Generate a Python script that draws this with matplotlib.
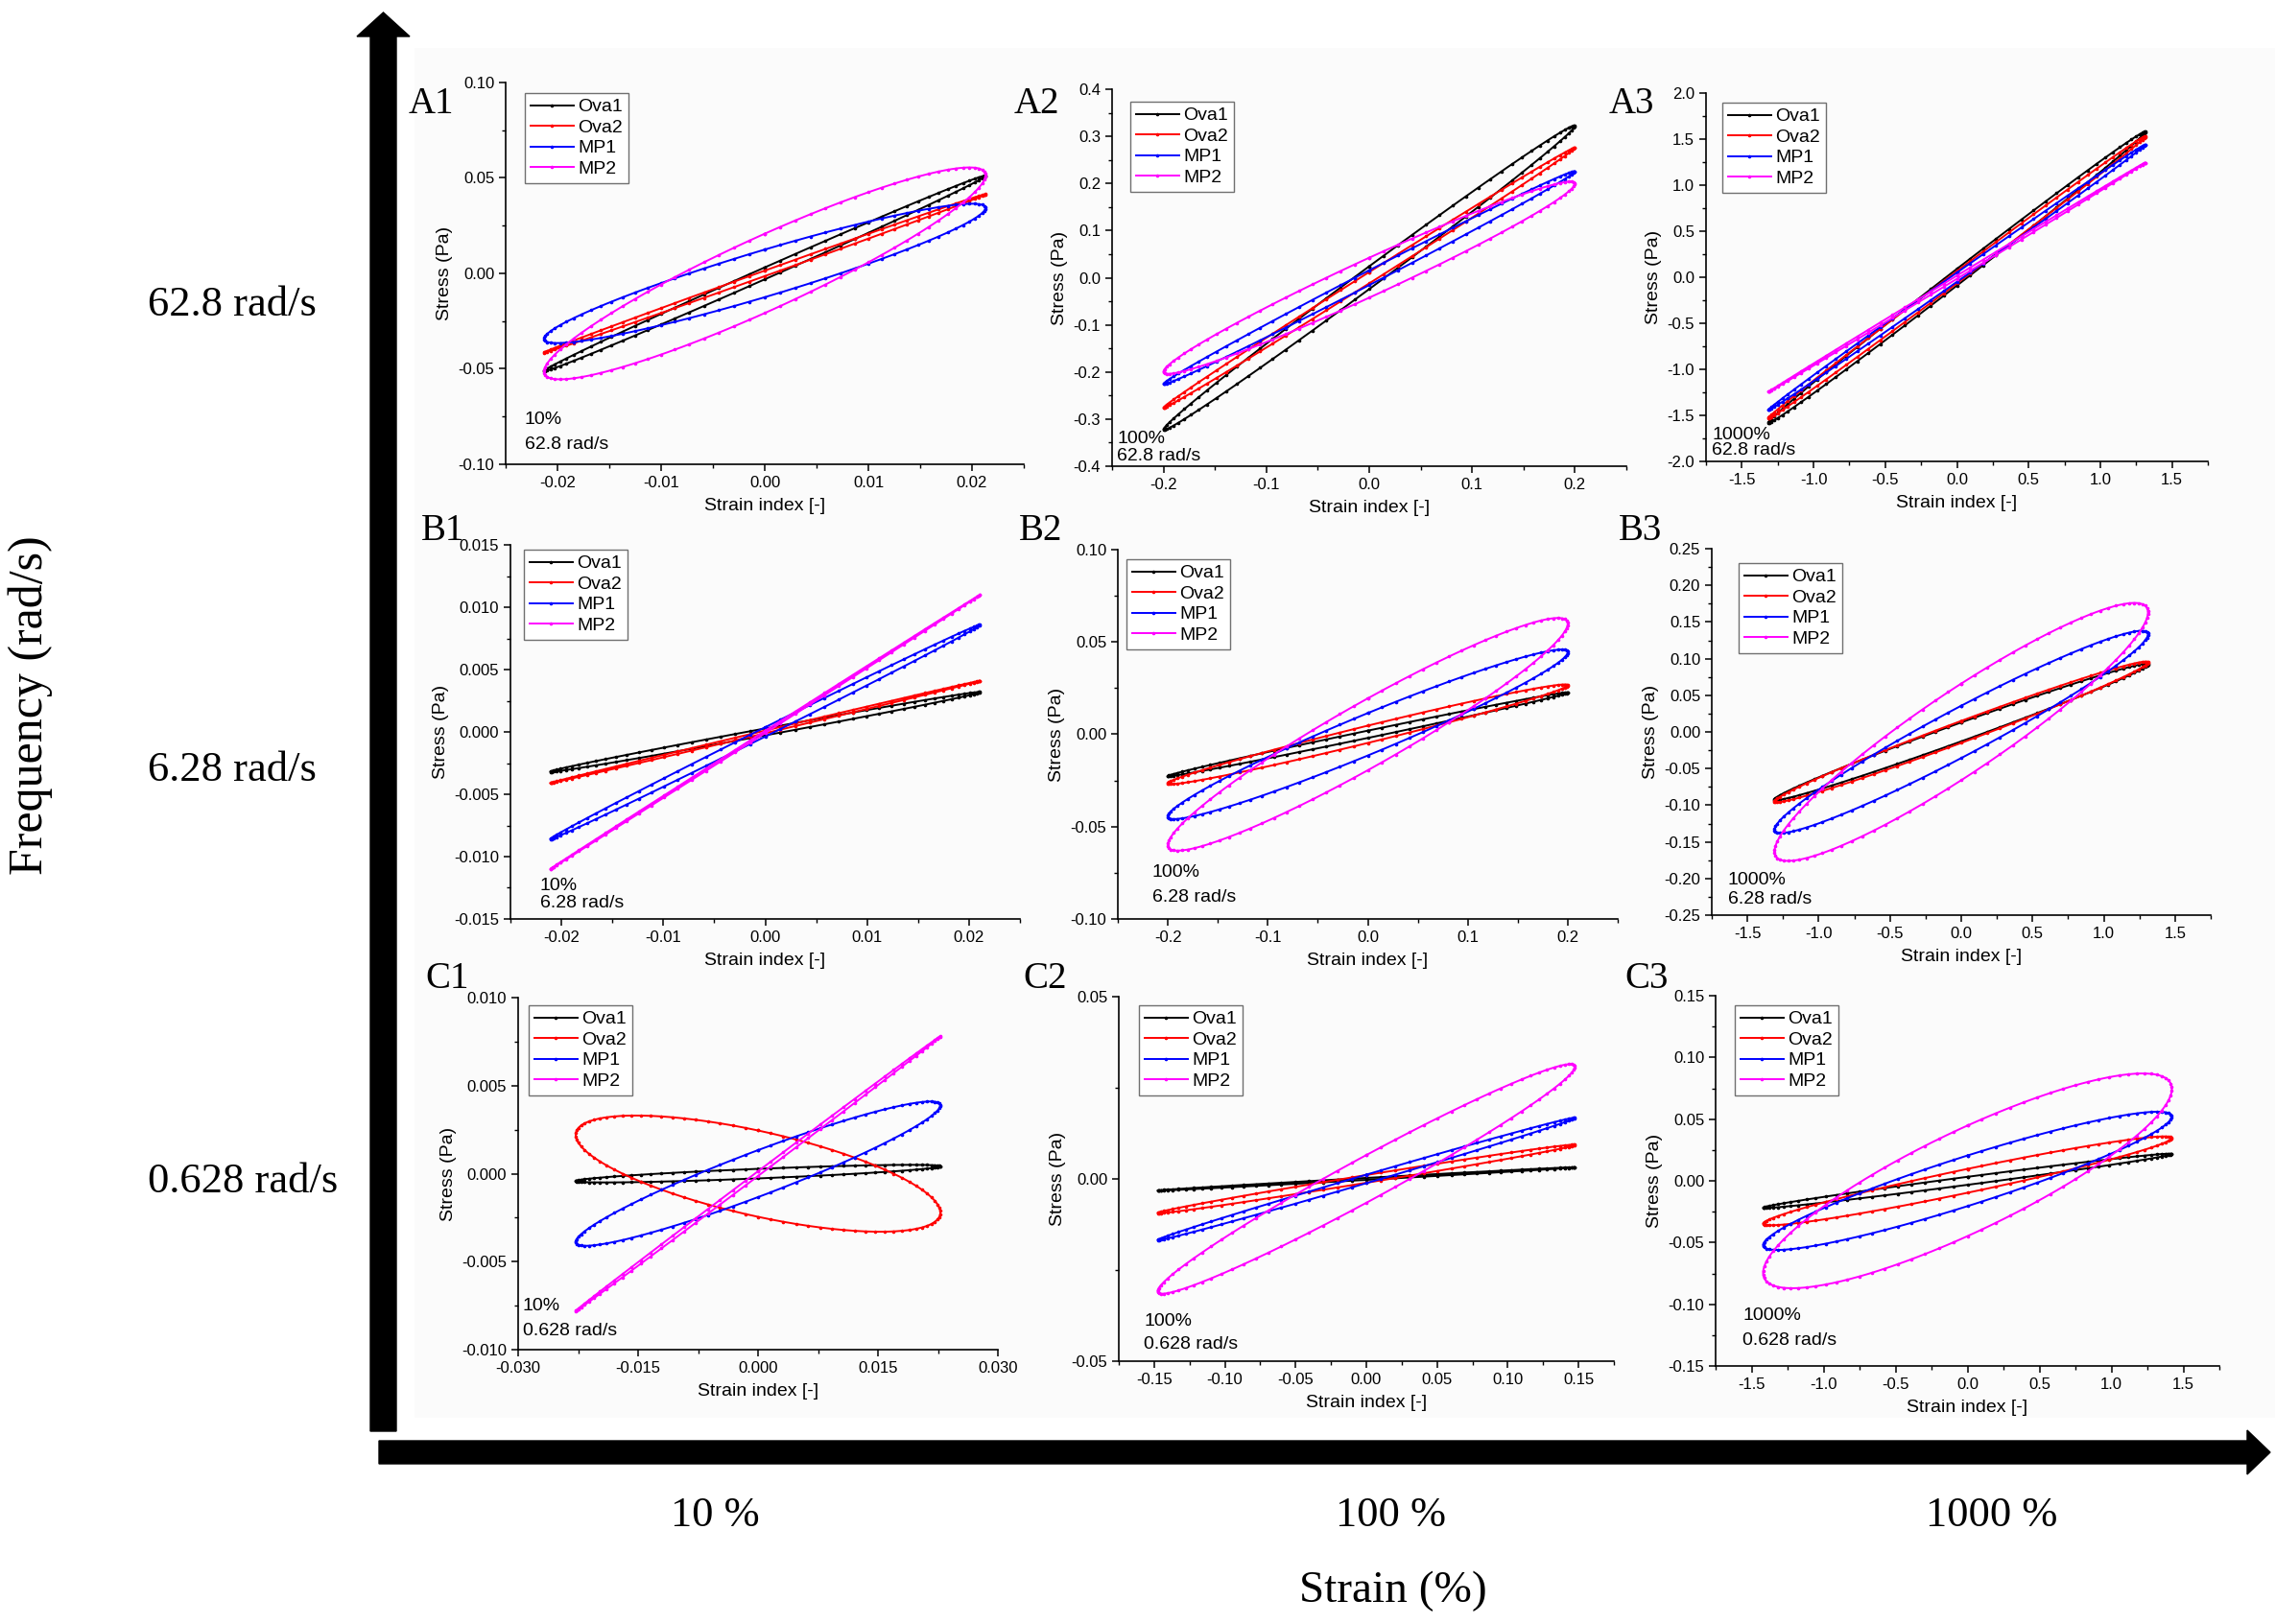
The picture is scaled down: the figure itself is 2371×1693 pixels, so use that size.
"""
Curvas de Lissajous (esfuerzo vs deformación) para Ova1, Ova2, MP1 y MP2,
en una rejilla 3x3: frecuencia (filas) x amplitud de deformación (columnas).
"""
import numpy as np
import matplotlib
matplotlib.use("Agg")
import matplotlib.pyplot as plt
from matplotlib.ticker import MultipleLocator, FuncFormatter
from matplotlib.patches import Polygon, Rectangle

plt.rcParams["axes.unicode_minus"] = False
plt.rcParams["font.family"] = ["Liberation Sans", "DejaVu Sans"]

W, H, DPI = 2371, 1693, 100

# ---- datos ---------------------------------------------------------------
samples = ["Ova1", "Ova2", "MP1", "MP2"]
row_freq = ["62.8 rad/s", "6.28 rad/s", "0.628 rad/s"]
col_strain = ["10 %", "100 %", "1000 %"]
panel_pct = ["10%", "100%", "1000%"]
panel_names = [["A1", "A2", "A3"], ["B1", "B2", "B3"], ["C1", "C2", "C3"]]

# amplitud de deformación (strain index) por columna, en cada fila
strain_amp_A = [0.0213, 0.200, 1.313]
strain_amp_B = [0.0211, 0.200, 1.310]
strain_amp_C = [0.0228, 0.1476, 1.420]

# amplitud de esfuerzo (Pa) y desfase (grados) por muestra: Ova1, Ova2, MP1, MP2
stress_A1 = [0.0512, 0.0415, 0.0365, 0.0555]
phase_A1 = [3.5, 2.0, 20.0, 22.0]
stress_A2 = [0.323, 0.276, 0.226, 0.204]
phase_A2 = [4.3, 2.5, 4.0, 12.0]
stress_A3 = [1.58, 1.53, 1.44, 1.245]
phase_A3 = [3.3, 2.5, 2.0, 0.8]

stress_B1 = [0.0032, 0.0041, 0.0086, 0.0110]
phase_B1 = [5.0, 1.5, 2.5, 0.5]
stress_B2 = [0.0227, 0.0270, 0.0459, 0.0630]
phase_B2 = [5.0, 10.0, 14.5, 18.0]
stress_B3 = [0.093, 0.096, 0.138, 0.176]
phase_B3 = [8.0, 9.0, 15.0, 22.0]

stress_C1 = [0.0005, 0.0033, 0.0041, 0.0078]
phase_C1 = [33.0, 132.0, 19.0, 1.0]
stress_C2 = [0.0032, 0.0094, 0.0168, 0.0315]
phase_C2 = [5.0, 6.5, 4.0, 12.0]
stress_C3 = [0.022, 0.036, 0.056, 0.087]
phase_C3 = [8.5, 15.6, 21.5, 31.0]

strain_amp = {"A": strain_amp_A, "B": strain_amp_B, "C": strain_amp_C}
stress = {"A1": stress_A1, "A2": stress_A2, "A3": stress_A3,
          "B1": stress_B1, "B2": stress_B2, "B3": stress_B3,
          "C1": stress_C1, "C2": stress_C2, "C3": stress_C3}
phase = {"A1": phase_A1, "A2": phase_A2, "A3": phase_A3,
         "B1": phase_B1, "B2": phase_B2, "B3": phase_B3,
         "C1": phase_C1, "C2": phase_C2, "C3": phase_C3}

# ---- estilo / maquetación (en píxeles de la figura) ------------------------
colors = ["black", "#ff0000", "#0000ff", "#ff00ff"]

# caja de cada panel: izquierda, arriba, derecha, abajo
boxes = {"A1": (527, 86, 1067, 484), "A2": (1159, 93, 1695, 486), "A3": (1778, 97, 2301, 481),
         "B1": (532, 568, 1063, 958), "B2": (1165, 573, 1686, 958), "B3": (1784, 572, 2304, 954),
         "C1": (540, 1040, 1040, 1407), "C2": (1166, 1039, 1682, 1419), "C3": (1788, 1038, 2313, 1424)}
legend_pos = {"A1": (547, 97), "A2": (1178, 106), "A3": (1795, 107),
              "B1": (546, 573), "B2": (1174, 583), "B3": (1812, 587),
              "C1": (551, 1048), "C2": (1187, 1048), "C3": (1808, 1048)}
note_pos = {"A1": (547, 437, 463), "A2": (1164, 458, 475), "A3": (1784, 453, 470),
            "B1": (563, 923, 942), "B2": (1201, 910, 935), "B3": (1801, 918, 937),
            "C1": (545, 1362, 1387), "C2": (1192, 1377, 1402), "C3": (1816, 1371, 1397)}
tag_pos = {"A1": (426, 118), "A2": (1057, 118), "A3": (1677, 118),
           "B1": (439, 563), "B2": (1062, 563), "B3": (1687, 563),
           "C1": (443, 1030), "C2": (1066, 1030), "C3": (1693, 1030)}
# xlim, x mayor, x menor, decimales x, ylim, y mayor, y menor, decimales y
scales = {"A1": (0.025, 0.01, 0.005, 2, 0.10, 0.05, 0.025, 2),
          "A2": (0.25, 0.1, 0.05, 1, 0.4, 0.1, 0.05, 1),
          "A3": (1.75, 0.5, 0.25, 1, 2.0, 0.5, 0.25, 1),
          "B1": (0.025, 0.01, 0.005, 2, 0.015, 0.005, 0.0025, 3),
          "B2": (0.25, 0.1, 0.05, 1, 0.10, 0.05, 0.025, 2),
          "B3": (1.75, 0.5, 0.25, 1, 0.25, 0.05, 0.025, 2),
          "C1": (0.030, 0.015, 0.0075, 3, 0.010, 0.005, 0.0025, 3),
          "C2": (0.175, 0.05, 0.025, 2, 0.05, 0.05, 0.025, 2),
          "C3": (1.75, 0.5, 0.25, 1, 0.15, 0.05, 0.025, 2)}


def fmt(d):
    return FuncFormatter(lambda v, p: f"{(0.0 if abs(v) < 1e-12 else v):.{d}f}")


fig = plt.figure(figsize=(W / DPI, H / DPI), dpi=DPI)

# capa de fondo en coordenadas de píxel (flechas y rótulos grandes)
ov = fig.add_axes([0, 0, 1, 1], zorder=0)
ov.set_xlim(0, W)
ov.set_ylim(H, 0)
ov.axis("off")
ov.add_patch(Rectangle((432, 50), W - 432, 1428, color="#fbfbfb", lw=0))
ov.add_patch(Polygon([(386, 1492), (386, 38), (372, 38), (399.5, 13),
                      (427, 38), (413, 38), (413, 1492)], closed=True, color="black"))
ov.add_patch(Polygon([(395, 1502), (2342, 1502), (2342, 1491), (2366, 1514),
                      (2342, 1537), (2342, 1526), (395, 1526)], closed=True, color="black"))

serif = ["Liberation Serif", "DejaVu Serif"]
for label, y in zip(row_freq, [318, 803, 1232]):
    ov.text(154, y, label, fontsize=32, family=serif, ha="left", va="center")
ov.text(32, 735, "Frequency (rad/s)", fontsize=36, family=serif, rotation=90,
        ha="center", va="center")
for label, x in zip(col_strain, [745, 1449, 2076]):
    ov.text(x, 1580, label, fontsize=32, family=serif, ha="center", va="center")
ov.text(1452, 1659, "Strain (%)", fontsize=34, family=serif, ha="center", va="center")

t = np.linspace(0, 2 * np.pi, 361)

for r, row in enumerate(panel_names):
    for c, name in enumerate(row):
        l, tp, rt, b = boxes[name]
        ax = fig.add_axes([l / W, 1 - b / H, (rt - l) / W, (b - tp) / H], zorder=1)
        ax.set_facecolor("none")

        g0 = strain_amp[name[0]][c]
        for s, col, s0, d in zip(samples, colors, stress[name], phase[name]):
            x = g0 * np.sin(t)
            y = s0 * np.sin(t + np.radians(d))
            ax.plot(x, y, color=col, lw=1.4, marker="o", markersize=1.6,
                    markevery=4, label=s)

        xl, xM, xm, xd, yl, yM, ym, yd = scales[name]
        ax.set_xlim(-xl, xl)
        ax.set_ylim(-yl, yl)
        ax.xaxis.set_major_locator(MultipleLocator(xM))
        ax.xaxis.set_minor_locator(MultipleLocator(xm))
        ax.yaxis.set_major_locator(MultipleLocator(yM))
        ax.yaxis.set_minor_locator(MultipleLocator(ym))
        ax.xaxis.set_major_formatter(fmt(xd))
        ax.yaxis.set_major_formatter(fmt(yd))
        for side in ["top", "right"]:
            ax.spines[side].set_visible(False)
        for side in ["left", "bottom"]:
            ax.spines[side].set_linewidth(1.2)
        ax.tick_params(which="major", direction="out", length=5, width=1.1, labelsize=12)
        ax.tick_params(which="minor", direction="out", length=2.8, width=1.0)
        ax.set_xlabel("Strain index [-]", fontsize=14, labelpad=6)
        ax.set_ylabel("Stress (Pa)", fontsize=14)

        lx, ly = legend_pos[name]
        leg = ax.legend(loc="upper left", bbox_to_anchor=(lx / W, 1 - ly / H),
                        bbox_transform=fig.transFigure, borderaxespad=0,
                        fontsize=14, labelspacing=0.2, borderpad=0.3,
                        handlelength=2.3, handletextpad=0.25, fancybox=False,
                        framealpha=1, edgecolor="#707070")
        leg.get_frame().set_linewidth(1.0)
        leg.get_frame().set_facecolor("white")

        nx, ny1, ny2 = note_pos[name]
        ov.text(nx, ny1, panel_pct[c], fontsize=14, ha="left", va="center")
        ov.text(nx, ny2, row_freq[r], fontsize=14, ha="left", va="center")
        px, py = tag_pos[name]
        ov.text(px, py, name, fontsize=28, family=serif, ha="left", va="baseline")

fig.savefig("out.png", dpi=DPI)
print("guardado out.png")
